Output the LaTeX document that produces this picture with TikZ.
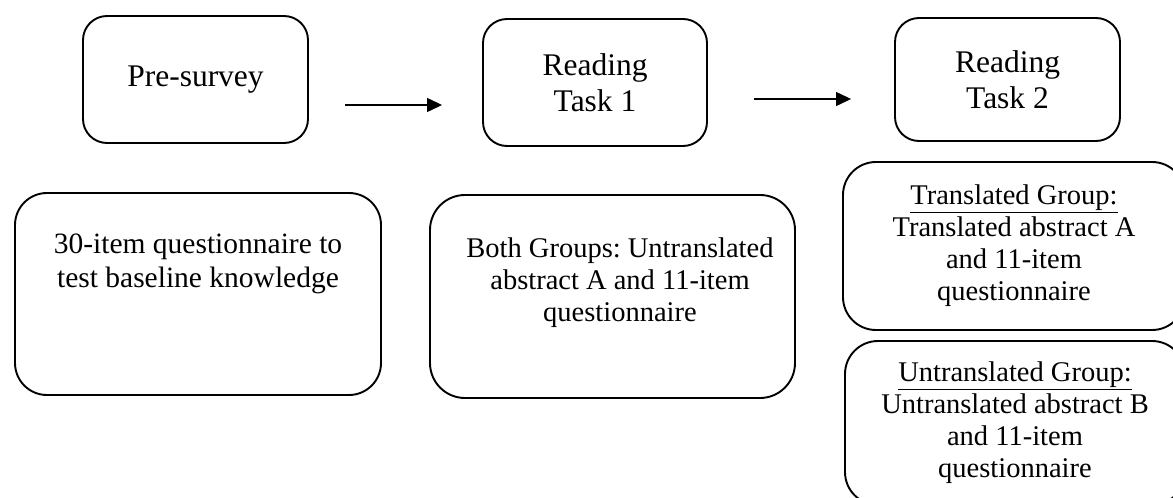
\documentclass[tikz,border=0pt]{standalone}
\usepackage{fontspec}
\setmainfont{Liberation Serif}
\usetikzlibrary{arrows.meta}
\frenchspacing
\begin{document}
\begin{tikzpicture}[x=1pt,y=-1pt,
  box/.style={draw, line width=1.9pt, rounded corners=#1, inner sep=0pt, align=center},
  box/.default=25pt,
  topfont/.style={font=\fontsize{31.5}{36}\selectfont},
  botfont/.style={font=\fontsize{28.5}{32}\selectfont},
  arr/.style={-{Triangle[length=15pt,width=14pt]}, line width=1.3pt}]
\useasboundingbox (0,0) rectangle (1173,498);
\clip (0,0) rectangle (1173,498);
% top row
\node[box=24pt, topfont, minimum width=225pt, minimum height=127pt] (pre) at (195.5,79.5) {Pre-survey};
\node[box=24pt, topfont, minimum width=224pt, minimum height=127pt] (rt1) at (595,82.5) {Reading\\Task 1};
\node[box=24pt, topfont, minimum width=225pt, minimum height=123pt] (rt2) at (1007.5,79.5) {Reading\\Task 2};
% bottom row
\node[box=32pt, font=\fontsize{29.5}{33.5}\selectfont] (q30) at (198,294) {\parbox[c][202pt][t]{366pt}{\centering\vspace*{41pt}30-item questionnaire to\\test baseline knowledge}};
\node[box=35pt, botfont] (mid) at (612.5,296.5) {\parbox[c][203pt][t]{365pt}{\centering\leftskip=15pt plus 1fil\vspace*{43pt}Both Groups: Untranslated\\abstract A and 11-item\\questionnaire}};
\node[box=33pt, botfont, minimum width=342pt, minimum height=168pt] (tr) at (1014,246) {\underline{Translated Group:}\\Translated abstract A\\and 11-item\\questionnaire};
\node[box=33pt, botfont, minimum width=340pt, minimum height=164pt] (ut) at (1015,423) {\underline{Untranslated Group:}\\Untranslated abstract B\\and 11-item\\questionnaire};
% arrows
\draw[arr, shorten <=36pt, shorten >=40pt] ([yshift=-25.5pt]pre.east) -- ([yshift=-25.5pt]pre.east -| rt1.west);
\draw[arr, shorten <=46pt, shorten >=43pt] ([yshift=-16.5pt]rt1.east) -- ([yshift=-16.5pt]rt1.east -| rt2.west);
\end{tikzpicture}
\end{document}
